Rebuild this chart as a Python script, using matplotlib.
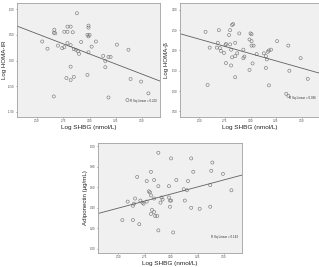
import numpy as np
import matplotlib
matplotlib.use("Agg")
import matplotlib.pyplot as plt

plt.rcParams['font.family'] = ['Liberation Sans', 'DejaVu Sans']

# panel 1: Log HOMA-IR
shbg_ir = [2.88, 2.665, 2.674, 2.66, 2.79, 2.82, 2.79, 2.76, 2.84, 2.99, 2.99, 2.98, 3.00,
           2.99, 2.55, 2.60, 2.70, 2.74, 2.76, 2.79, 2.82, 2.85, 2.87, 2.89, 2.90, 2.92,
           3.02, 3.06, 2.99, 3.13, 3.15, 3.18, 3.20, 3.26, 3.37, 3.15, 2.82, 2.78, 2.82,
           2.85, 2.98, 2.66, 3.18, 3.39, 3.49, 3.56, 3.36]
homa_ir = [0.92, 0.60, 0.53, 0.54, 0.66, 0.66, 0.56, 0.56, 0.55, 0.68, 0.64, 0.50, 0.50,
           0.47, 0.37, 0.23, 0.29, 0.24, 0.26, 0.34, 0.30, 0.22, 0.21, 0.18, 0.13, 0.36,
           0.27, 0.37, 0.16, 0.09, -0.01, 0.07, 0.07, 0.31, 0.21, -0.13, -0.12, -0.34, -0.38,
           -0.32, -0.28, -0.70, -0.72, -0.36, -0.41, -0.64, -0.77]

# panel 2: Log HOMA-beta
shbg_b = [2.56, 2.69, 2.60, 2.67, 2.68, 2.71, 2.74, 2.76, 2.755, 2.80, 2.79, 2.80, 2.82,
          2.83, 2.85, 2.81, 2.82, 2.85, 2.87, 2.89, 2.76, 2.81, 2.85, 2.93, 2.93, 2.94,
          2.99, 3.00, 3.01, 3.01, 3.03, 3.01, 2.99, 3.02, 3.06, 3.13, 3.15, 3.16, 3.17,
          3.18, 3.20, 3.15, 3.18, 3.26, 3.37, 3.38, 3.49, 3.56, 3.35, 3.37, 2.58, 2.70]
homa_b = [2.46, 2.50, 2.07, 2.07, 2.19, 1.99, 1.94, 2.16, 2.13, 2.15, 2.38, 2.50, 2.63,
          2.65, 2.19, 2.02, 1.83, 1.86, 1.93, 2.42, 1.69, 1.63, 1.34, 2.02, 1.81, 1.85,
          2.27, 2.42, 2.40, 2.23, 2.12, 2.12, 1.52, 1.68, 1.91, 1.93, 1.86, 1.78, 1.97,
          2.00, 2.02, 1.57, 1.14, 2.23, 2.12, 1.50, 1.81, 1.30, 0.93, 0.88, 1.15, 2.06]

# panel 3: Adiponectin
shbg_adp = [2.88, 3.00, 3.19, 3.39, 2.68, 2.81, 2.77, 2.84, 3.05, 3.16, 3.21, 3.38, 3.49,
            2.88, 2.98, 3.37, 2.79, 2.80, 2.81, 2.84, 2.66, 2.59, 2.65, 2.71, 2.73, 2.74,
            2.77, 2.91, 2.92, 2.98, 2.99, 3.00, 3.12, 3.15, 3.13, 3.57, 2.64, 2.99, 2.82,
            2.84, 2.90, 2.87, 2.85, 2.81, 2.54, 2.64, 2.70, 3.19, 3.27, 3.37, 2.88, 3.02]
adipo = [0.935, 0.88, 0.88, 0.84, 0.70, 0.75, 0.66, 0.67, 0.67, 0.66, 0.75, 0.76, 0.73,
         0.61, 0.61, 0.62, 0.56, 0.55, 0.52, 0.49, 0.49, 0.46, 0.44, 0.47, 0.45, 0.44,
         0.46, 0.50, 0.48, 0.50, 0.47, 0.47, 0.58, 0.57, 0.47, 0.57, 0.42, 0.41, 0.38,
         0.36, 0.45, 0.32, 0.32, 0.34, 0.28, 0.28, 0.24, 0.40, 0.39, 0.41, 0.18, 0.16]

xticks = [2.50, 2.75, 3.00, 3.25, 3.50]
W, H = 319, 267
panels = [
    # x, y, ylabel, yticks, ylim, r2 text, text pos, axes box in pixels (left, top, right, bottom)
    (shbg_ir, homa_ir, "Log HOMA-IR", [-1.0, -0.5, 0.0, 0.5, 1.0], (-1.1, 1.12),
     "R Sq Linear = 0.202", (3.38, -0.78), (17, 3, 160, 117)),
    (shbg_b, homa_b, "Log HOMA-β", [0.5, 1.0, 1.5, 2.0, 2.5, 3.0], (0.36, 3.17),
     "R Sq Linear = 0.096", (3.38, 0.82), (180, 3, 319, 117)),
    (shbg_adp, adipo, "Adiponectin (µg/mL)", [0.0, 0.2, 0.4, 0.6, 0.8, 1.0], (-0.04, 1.03),
     "R Sq Linear = 0.143", (3.38, 0.12), (98, 143, 242, 253)),
]

fig = plt.figure(figsize=(W / 100, H / 100), dpi=100)
for x, y, ylab, yt, ylim, r2, tpos, box in panels:
    l, t, r, btm = box
    ax = fig.add_axes([l / W, 1 - btm / H, (r - l) / W, (btm - t) / H])
    ax.set_facecolor("#f0f0f0")
    for s in ax.spines.values():
        s.set_color("#a0a0a0")
        s.set_linewidth(0.6)
    x = np.array(x)
    y = np.array(y)
    ax.scatter(x, y, s=5, facecolors="none", edgecolors="#707070", linewidths=0.4)
    k, b = np.polyfit(x, y, 1)
    xs = np.array([2.31, 3.67])
    ax.plot(xs, k * xs + b, color="#606060", lw=0.6)
    ax.set_xlim(2.31, 3.67)
    ax.set_ylim(*ylim)
    ax.set_xticks(xticks)
    ax.set_xticklabels([f"{v:.2f}" for v in xticks])
    ax.set_yticks(yt)
    ax.set_yticklabels([f"{v:.2f}" for v in yt])
    ax.tick_params(labelsize=2.0, length=1.0, width=0.4, pad=0.8, colors="#444444")
    ax.set_xlabel("Log SHBG (nmol/L)", fontsize=4.6, labelpad=1, color="#222222")
    ax.set_ylabel(ylab, fontsize=4.4, color="#222222")
    # y label right next to the tiny tick labels, ~10.5 px left of the frame
    ax.yaxis.set_label_coords(-10.5 / (r - l), 0.5)
    ax.text(tpos[0], tpos[1], r2, fontsize=2.2, color="#333333", va="center")

fig.savefig("out.png", dpi=100)
